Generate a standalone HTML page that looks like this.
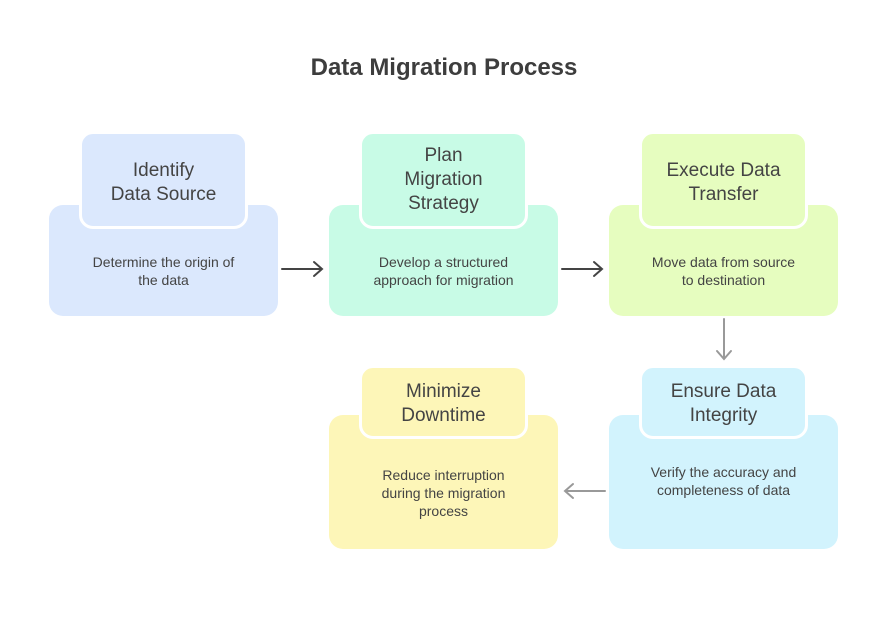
<!DOCTYPE html><html><head><style>
body{margin:0;width:888px;height:625px;background:#fff;font-family:"Liberation Sans",sans-serif;color:#444;position:relative;overflow:hidden}
.t{position:absolute;left:0;width:888px;top:54px;text-align:center;font-size:24px;font-weight:bold;color:#3d3d3d}
.b{position:absolute;border-radius:14px;display:flex;align-items:center;justify-content:center;text-align:center;box-sizing:border-box}
.big{width:229px;font-size:14px;line-height:18px;padding:0 12px}
.h{width:169px;font-size:19px;line-height:24px;border:3px solid #fff;padding:0 6px}
svg{position:absolute;left:0;top:0}
</style></head><body>
<div class="t">Data Migration Process</div>
<div class="b big" style="left:49px;top:205px;height:111px;background:#dbe8fd;padding-top:20px">Determine the origin of<br>the data</div>
<div class="b h" style="left:79px;top:131px;height:98px;background:#dbe8fd;padding-top:6px">Identify<br>Data Source</div>
<div class="b big" style="left:329px;top:205px;height:111px;background:#c8fbe6;padding-top:20px">Develop a structured<br>approach for migration</div>
<div class="b h" style="left:359px;top:131px;height:98px;background:#c8fbe6">Plan<br>Migration<br>Strategy</div>
<div class="b big" style="left:609px;top:205px;height:111px;background:#e6fdbf;padding-top:20px">Move data from source<br>to destination</div>
<div class="b h" style="left:639px;top:131px;height:98px;background:#e6fdbf;padding-top:6px">Execute Data<br>Transfer</div>
<div class="b big" style="left:609px;top:415px;height:134px;background:#d2f3fd;padding-bottom:2px">Verify the accuracy and<br>completeness of data</div>
<div class="b h" style="left:639px;top:365px;height:74px;background:#d2f3fd;padding-top:4px">Ensure Data<br>Integrity</div>
<div class="b big" style="left:329px;top:415px;height:134px;background:#fdf6b8;padding-top:22px">Reduce interruption<br>during the migration<br>process</div>
<div class="b h" style="left:359px;top:365px;height:74px;background:#fdf6b8;padding-top:4px">Minimize<br>Downtime</div>
<svg width="888" height="625" fill="none" stroke-width="2" stroke-linecap="round">
<g stroke="#444"><path d="M282 269H322M314 262L322 269L314 276"/><path d="M562 269H602M594 262L602 269L594 276"/></g>
<g stroke="#999"><path d="M724 319V359M717 351L724 359L731 351"/><path d="M605 491H565M573 484L565 491L573 498"/></g>
</svg>
</body></html>
